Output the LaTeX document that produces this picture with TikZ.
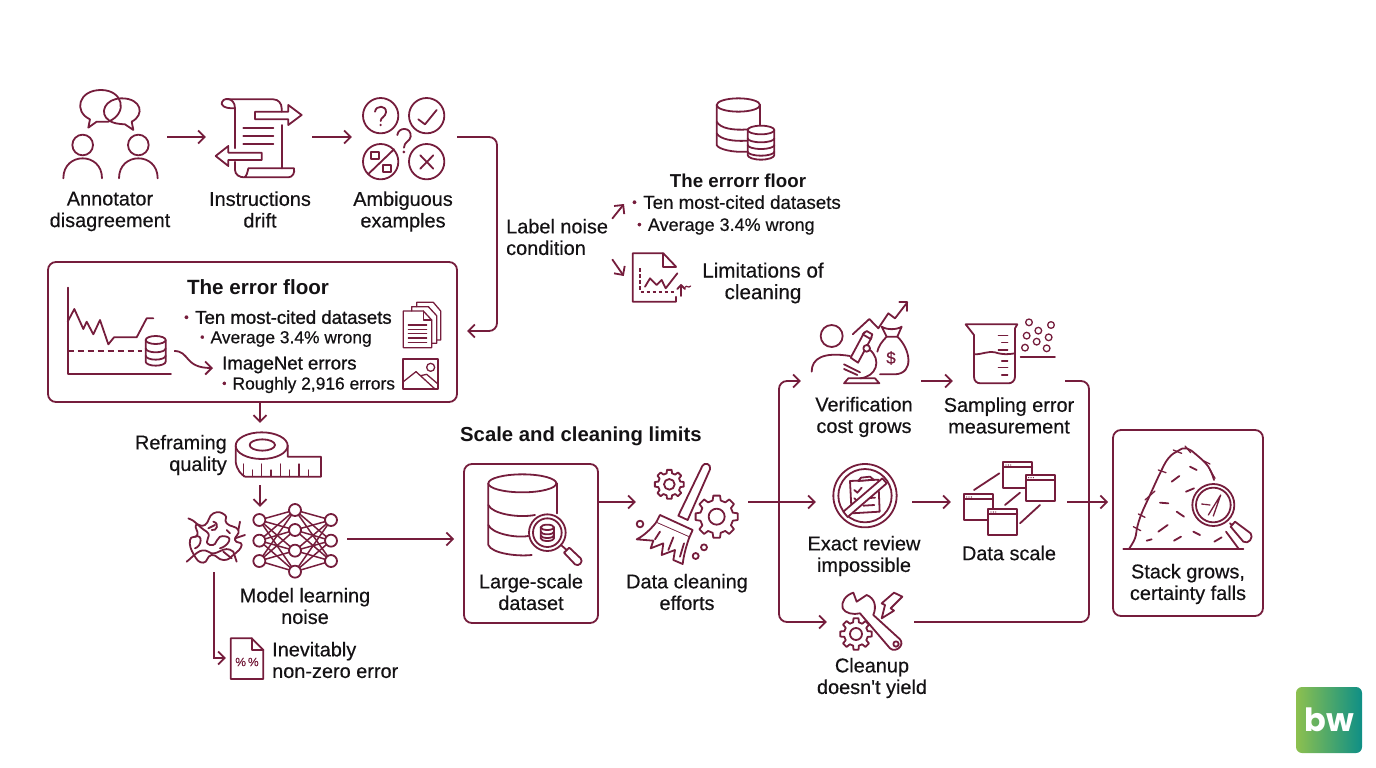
\documentclass[tikz,border=0pt]{standalone}
\usepackage{fontspec}
\setmainfont{Liberation Sans}
\newfontfamily\medfont{Liberation Sans}[FakeBold=0.45]
\newfontfamily\strongfont{Liberation Sans}[FakeBold=1.1]
\newfontfamily\logofont{Poppins}
\usetikzlibrary{arrows.meta}

\definecolor{wine}{HTML}{751D3C}
\definecolor{ink}{HTML}{141214}
\definecolor{logoleft}{HTML}{8DC04F}
\definecolor{logoright}{HTML}{0E8F86}

\newcommand{\bodyfont}{\medfont\fontsize{19.9}{21.6}\selectfont}
\newcommand{\itemfont}{\medfont\fontsize{17.4}{20}\selectfont}
\newcommand{\boldfont}{\strongfont\fontsize{18.6}{20}\selectfont}
\newcommand{\headfont}{\bfseries\fontsize{20.3}{22}\selectfont}
\newcommand{\dotitem}{\textcolor{wine}{\raisebox{.12em}{\scalebox{.7}{•}}}\hspace{.35em}}

% Roda dentada
\newcommand{\cog}[5]{%
  \draw[icon,fill=white,shift={(#1,#2)}] (-14:#3) \foreach \a in {0,45,...,315} { -- (\a-14:#3) -- (\a-9:#4) -- (\a+9:#4) -- (\a+14:#3) } -- cycle;
  \draw[icon,shift={(#1,#2)}] (0,0) circle (#5);
}

\tikzset{
  icon/.style={draw=wine, line width=1.8pt, line join=round, line cap=round},
  thinicon/.style={icon, line width=1.3pt},
  flow/.style={draw=wine, line width=1.8pt, ->, rounded corners=8pt},
  spot/.style={inner sep=0pt, minimum width=#1},
  caption/.style={font=\bodyfont, text=ink, align=center, inner sep=0pt, execute at end node=\vphantom{g}},
  listitem/.style={font=\itemfont, text=ink, anchor=west, inner sep=0pt, execute at end node=\vphantom{g}},
  listhead/.style={font=\boldfont, text=ink, anchor=west, inner sep=0pt, execute at end node=\vphantom{g}},
  heading/.style={font=\headfont, text=ink, inner sep=0pt},
  panel/.style={draw=wine, line width=1.8pt, rounded corners=8pt, inner sep=0pt},
  zoomed/.style 2 args={shift={(#1,#2)}, scale=1/3},
}

\begin{document}
\begin{tikzpicture}[x=1pt, y=-1pt, >={Straight Barb[length=6.5pt,width=13pt]}]
    \useasboundingbox (0,0) rectangle (1376,768);

    % Pontos de ancoragem dos icones
    \node[spot=104pt, minimum height=90pt] (annot) at (115,137) {};
    \node[spot=106pt, minimum height=90pt] (scroll) at (259,137) {};
    \node[spot=105pt, minimum height=90pt] (ambig) at (404.5,137) {};
    \node[spot=40pt, minimum height=62pt] (tape) at (260,454) {};
    \node[spot=60pt, minimum height=64pt] (blob) at (214,540) {};
    \node[spot=94pt, minimum height=64pt] (net) at (300,539) {};
    \node[spot=40pt, minimum height=40pt] (pct) at (246,658) {};
    \node[spot=36pt, minimum height=30pt] (minidb) at (156,351) {};
    \node[spot=62pt, minimum height=50pt] (chart) at (655,276) {};
    \node[spot=112pt, minimum height=80pt] (broom) at (692,502) {};
    \node[spot=120pt, minimum height=70pt] (verify) at (861,381) {};
    \node[spot=112pt, minimum height=70pt] (sampling) at (1009,381) {};
    \node[spot=96pt, minimum height=70pt] (review) at (864,502) {};
    \node[spot=116pt, minimum height=70pt] (datascale) at (1009,502) {};
    \node[spot=87pt, minimum height=70pt] (cleanup) at (870.5,622) {};
    \coordinate (forkL) at (779,502);
    \coordinate (forkR) at (1089,502);
    \coordinate (floorin) at (467,331);

    % Caixas
    \node[panel, minimum width=409pt, minimum height=140pt] (floorbox) at (252.5,332) {};
    \node[panel, minimum width=134pt, minimum height=159pt] (dsbox) at (531,543.5) {};
    \node[panel, minimum width=150pt, minimum height=186pt] (stackbox) at (1188,523) {};

    % Textos da primeira linha
    \node[caption] (annottext) at (110,211.5) {Annotator\\disagreement};
    \node[caption] (scrolltext) at (260,211.5) {Instructions\\drift};
    \node[caption] (ambigtext) at (403,211.5) {Ambiguous\\examples};
    \node[caption, align=left, anchor=west, inner xsep=4pt] (labelnoise) at (502,239) {Label noise\\condition};

    % Textos do bloco superior direito
    \node[heading, font=\bfseries\fontsize{18.7}{20}\selectfont] (floortwo) at (738,181) {The errorr floor};
    \node[listitem, font=\medfont\fontsize{18.7}{20}\selectfont] (tenitem) at (632,204) {\dotitem Ten most-cited datasets};
    \node[listitem, font=\medfont\fontsize{18}{20}\selectfont] (avgitem) at (637,226.5) {\dotitem Average 3.4\% wrong};
    \node[caption, font=\medfont\fontsize{20.6}{21.6}\selectfont] (limits) at (763,283) {Limitations of\\cleaning};

    % Textos da caixa do erro
    \node[heading, font=\bfseries\fontsize{20.6}{22}\selectfont] (floorhead) at (258,287) {The error floor};
    \node[listhead] (tenhead) at (184,319) {\dotitem Ten most-cited datasets};
    \node[listitem] (avghead) at (200,339) {\dotitem Average 3.4\% wrong};
    \node[listhead] (imgnet) at (222,365) {ImageNet errors};
    \node[listitem] (roughly) at (222,385) {\dotitem Roughly 2,916 errors};

    % Demais textos
    \node[caption, align=right, anchor=east] (reframe) at (227,455) {Reframing\\quality};
    \node[caption] (modeltext) at (305,608) {Model learning\\noise};
    \node[caption, align=left, anchor=west] (inevit) at (272,662) {Inevitably\\non-zero error};
    \node[heading, anchor=west] (scalehead) at (460,436.5) {Scale and cleaning limits};
    \node[caption] (dstext) at (531,594) {Large-scale\\dataset};
    \node[caption] (broomtext) at (687,594) {Data cleaning\\efforts};
    \node[caption] (verifytext) at (864,417) {Verification\\cost grows};
    \node[caption] (samplingtext) at (1009,417.5) {Sampling error\\measurement};
    \node[caption] (reviewtext) at (864,556) {Exact review\\impossible};
    \node[caption] (scaletext) at (1009,555) {Data scale};
    \node[caption] (cleanuptext) at (872,678) {Cleanup\\doesn't yield};
    \node[caption] (stacktext) at (1188,584) {Stack grows,\\certainty falls};

    % Setas
    \draw[flow] (annot.east) -- (scroll.west);
    \draw[flow] (scroll.east) -- (ambig.west);
    \draw[flow] (ambig.east) -| ([xshift=30]floorin) -- (floorin);
    \draw[flow] (labelnoise.north east) -- ([xshift=-8]tenitem.west);
    \draw[flow] (labelnoise.south east) -- (chart.west);
    \draw[flow, rounded corners=0pt] (minidb.east) .. controls (190,351) and (184,368) .. ([shift={(-9,3)}]imgnet.west);
    \draw[flow] (tape.north |- floorbox.south) -- (tape.north);
    \draw[flow] (tape.south) -- (tape.south |- net.north);
    \draw[flow, rounded corners=0pt] (blob.south) |- (pct.west);
    \draw[flow, shorten >=9pt] (net.east) -- (net.east -| dsbox.west);
    \draw[flow] (dsbox.east |- broom.west) -- (broom.west);
    \draw[flow] (broom.east) -- (review.west);
    \draw[flow] (forkL) |- (verify.west);
    \draw[flow] (forkL) |- (cleanup.west);
    \draw[flow] (verify.east) -- (sampling.west);
    \draw[flow] (review.east) -- (datascale.west);
    \draw[flow, -] (sampling.east) -| (forkR);
    \draw[flow, -] (cleanup.east) -| (forkR);
    \draw[flow, shorten >=4pt] (datascale.east) -- (datascale.east -| stackbox.west);

    % Icone: anotadores
    \begin{scope}[zoomed={40}{80}]
      \draw[icon] (150,118) -- (145,143) -- (170,125) -- (205,125) .. controls (265,100) and (250,30) .. (183,30) .. controls (115,30) and (100,95) .. (150,118);
      \draw[icon] (275,125) -- (280,150) -- (255,133) .. controls (235,132) and (220,130) .. (208,122) .. controls (175,100) and (195,55) .. (245,55) .. controls (305,55) and (315,105) .. (275,125);
      \foreach \hx in {128,295} {
        \draw[icon] (\hx,195) circle (31);
        \draw[icon] (\hx-58,295) .. controls (\hx-58,215) and (\hx+58,215) .. (\hx+58,295);
      }
    \end{scope}

    % Icone: pergaminho
    \begin{scope}[zoomed={40}{80}]
      \draw[icon] (545,72) .. controls (545,50) and (585,50) .. (585,85) -- (585,205);
      \draw[icon] (545,72) .. controls (550,85) and (570,85) .. (585,85);
      \draw[icon] (560,58) -- (700,58) .. controls (715,58) and (725,70) .. (725,85) -- (725,95);
      \draw[icon] (725,135) -- (725,265);
      \draw[icon] (585,245) -- (585,270) .. controls (585,285) and (600,292) .. (612,292) -- (745,292) .. controls (758,292) and (765,278) .. (762,265) -- (625,265) .. controls (622,278) and (620,290) .. (612,292);
      \draw[icon] (645,95) -- (745,95) -- (745,75) -- (785,105) -- (745,135) -- (745,118) -- (645,118) -- cycle;
      \draw[icon] (665,218) -- (565,218) -- (565,198) -- (527,228) -- (565,258) -- (565,240) -- (665,240) -- cycle;
      \foreach \ly in {143,168,192} \draw[icon] (610,\ly) -- (700,\ly);
    \end{scope}

    % Icone: exemplos ambiguos
    \begin{scope}[zoomed={40}{80}]
      \foreach \cx/\cy in {1022/107,1160/107,1022/245,1160/245} \draw[icon] (\cx,\cy) circle (53);
      \draw[icon] (1005,95) .. controls (1008,75) and (1040,75) .. (1038,97) .. controls (1036,112) and (1022,112) .. (1022,123);
      \fill[wine] (1022,135) circle (4);
      \draw[icon] (1135,118) -- (1155,133) -- (1190,90);
      \draw[icon] (985,282) -- (1062,208);
      \draw[icon] (993,215) rectangle (1016,238);
      \draw[icon] (1030,254) rectangle (1053,276);
      \draw[icon] (1141,226) -- (1180,266) (1180,226) -- (1141,266);
      \draw[icon] (1072,165) .. controls (1075,140) and (1115,140) .. (1112,170) .. controls (1110,185) and (1092,185) .. (1092,203);
      \fill[wine] (1092,216) circle (4.5);
    \end{scope}

    % Icone: grafico da caixa
    \begin{scope}[zoomed={40}{255}]
      \draw[icon] (83,98) -- (83,358) -- (393,358);
      \draw[icon] (83,200) -- (103,162) -- (130,222) -- (140,200) -- (160,238) -- (180,195) -- (205,268) -- (222,247) -- (290,247) -- (320,190) -- (340,190);
      \draw[icon, dash pattern=on 6pt off 4pt, line cap=butt, line width=1.5pt] (83,288) -- (305,288);
      \draw[icon] (317,255) -- (317,320) arc (180:0:30 and 12) -- (377,255);
      \draw[icon] (347,255) ellipse (30 and 12);
      \draw[icon] (317,280) arc (180:0:30 and 12) (317,302) arc (180:0:30 and 12);
    \end{scope}

    % Icone: documentos e imagem
    \begin{scope}[zoomed={40}{255}]
      \draw[thinicon] (1130,155) -- (1130,142) -- (1180,142) -- (1202,168) -- (1202,255) -- (1190,255);
      \draw[thinicon] (1115,168) -- (1115,155) -- (1165,155) -- (1190,182) -- (1190,265) -- (1175,265);
      \draw[thinicon] (1090,168) -- (1150,168) -- (1175,195) -- (1175,278) -- (1090,278) -- cycle;
      \draw[thinicon] (1150,168) -- (1150,195) -- (1175,195);
      \foreach \ly in {210,223,236,249,262} \draw[thinicon] (1105,\ly) -- (1160,\ly);
      \draw[icon] (1090,313) rectangle (1195,402);
      \draw[thinicon] (1172,337) circle (12);
      \draw[thinicon] (1090,380) -- (1128,350) -- (1185,402) (1142,362) -- (1160,358) -- (1195,388);
    \end{scope}

    % Icone: fita metrica
    \begin{scope}[zoomed={225}{420}]
      \draw[icon] (110,77) ellipse (78 and 40);
      \draw[icon] (112,75) ellipse (38 and 17);
      \draw[icon] (32,77) -- (32,125) .. controls (35,150) and (50,165) .. (60,170) -- (288,170) -- (288,110) -- (188,110) -- (188,77);
      \foreach \tx/\ty in {55/132,82/150,110/132,138/150,166/132,194/150,222/132,250/150} \draw[thinicon] (\tx,170) -- (\tx,\ty);
    \end{scope}

    % Icone: emaranhado e rede neural
    \begin{scope}[zoomed={170}{480}]
      \draw[icon] plot[smooth cycle, tension=.9] coordinates {(60,180) (82,165) (78,135) (105,135) (130,100) (165,105) (170,130) (205,150) (195,180) (215,195) (190,225) (160,240) (125,225) (100,248) (72,225)};
      \draw[icon] (55,115) .. controls (75,120) and (85,140) .. (110,155) .. controls (130,170) and (95,185) .. (120,195) .. controls (150,200) and (130,160) .. (170,170) .. controls (190,175) and (170,200) .. (150,205);
      \draw[icon] (50,245) .. controls (70,230) and (90,200) .. (115,215) .. controls (140,235) and (160,190) .. (190,215) -- (200,245);
      \draw[icon] (75,170) .. controls (100,160) and (95,200) .. (75,205) (130,125) .. controls (150,130) and (140,155) .. (125,150);
      \draw[icon] (210,125) -- (205,150) (225,165) -- (195,175) (135,135) -- (115,145) (180,160) -- (170,150) (160,215) -- (185,235);
      \foreach \ya in {120,182,243} \foreach \yb in {90,150,212,275} {
        \draw[icon, line width=1.5pt] (268,\ya) -- (375,\yb) -- (483,\ya);
      }
      \foreach \ya in {120,182,243} {
        \draw[icon, fill=white] (268,\ya) circle (18);
        \draw[icon, fill=white] (483,\ya) circle (18);
      }
      \foreach \yb in {90,150,212,275} \draw[icon, fill=white] (375,\yb) circle (18);
      \draw[icon] (182,475) -- (245,475) -- (280,510) -- (280,597) -- (182,597) -- cycle;
      \draw[icon] (245,475) -- (245,510) -- (280,510);
    \end{scope}
    \node[font=\medfont\fontsize{12}{12}\selectfont, text=wine, inner sep=0pt] (pcttext) at (247,662) {\%\,\%};

    % Icone: bancos de dados superiores
    \begin{scope}[zoomed={600}{90}]
      \draw[icon] (350,45) -- (350,165) .. controls (355,178) and (400,188) .. (440,185);
      \draw[icon] (480,45) -- (480,105);
      \draw[icon] (415,45) ellipse (65 and 20);
      \draw[icon] (350,95) .. controls (360,115) and (400,122) .. (445,118) (350,130) .. controls (360,148) and (400,155) .. (440,152);
      \draw[icon, fill=white] (443,120) -- (443,195) arc (180:0:40 and 14) -- (523,120);
      \draw[icon] (483,120) ellipse (40 and 13);
      \foreach \ly in {145,165,185} \draw[icon] (443,\ly) arc (180:0:40 and 12);
    \end{scope}

    % Icone: limitacoes
    \begin{scope}[zoomed={600}{90}]
      \draw[icon] (228,530) -- (190,490) -- (98,490) -- (98,635) -- (228,635) -- (228,620);
      \draw[icon] (190,490) -- (190,530) -- (228,530);
      \draw[icon, dash pattern=on 3.5pt off 2.5pt, line cap=butt] (120,535) -- (120,605) -- (225,605);
      \draw[icon] (135,590) -- (150,565) -- (170,585) -- (185,570) -- (197,595) -- (232,550);
      \draw[icon] (243,618) -- (243,585) (232,597) -- (243,585) -- (255,597);
      \draw[icon, line width=1.2pt] (255,592) .. controls (260,583) and (265,597) .. (272,588);
    \end{scope}

    % Icone: banco com lupa
    \begin{scope}[zoomed={460}{450}]
      \draw[icon] (85,100) -- (85,285) .. controls (95,310) and (170,320) .. (215,315);
      \draw[icon] (290,100) -- (290,190);
      \draw[icon] (187,100) ellipse (102 and 27);
      \draw[icon] (85,165) .. controls (95,190) and (170,205) .. (225,195);
      \draw[icon] (85,225) .. controls (95,250) and (165,265) .. (205,258);
      \draw[icon, fill=white] (262,248) circle (55);
      \draw[icon] (262,248) circle (43);
      \draw[icon] (242,232) -- (242,265) arc (180:0:20 and 8) -- (282,232);
      \draw[icon] (262,232) ellipse (20 and 8);
      \draw[icon] (242,245) arc (180:0:20 and 8) (242,256) arc (180:0:20 and 8);
      \draw[icon] (303,285) -- (320,300);
      \draw[icon] (312,308) -- (345,343) .. controls (355,352) and (372,335) .. (362,325) -- (328,293) -- cycle;
    \end{scope}

    % Icone: vassoura e engrenagens
    \begin{scope}[zoomed={460}{450}]
      \cog{628}{103}{34}{44}{16}
      \cog{770}{200}{50}{64}{24}
      \draw[icon, fill=white] (655,197) -- (727,48) .. controls (733,35) and (755,42) .. (750,58) -- (683,210) -- cycle;
      \draw[icon, fill=white] (600,195) -- (698,240) -- (688,262) -- (588,218) -- cycle;
      \draw[icon, fill=white] (588,218) .. controls (570,240) and (550,258) .. (530,268) -- (580,272) -- (572,295) -- (610,280) -- (605,315) -- (645,300) -- (640,330) -- (668,342) .. controls (672,310) and (680,285) .. (688,262);
      \draw[icon] (600,245) -- (585,268) (640,262) -- (625,300) (672,280) -- (660,320);
      \foreach \cx/\cy/\cr in {540/222/10,732/292/9,707/318/9} \draw[icon] (\cx,\cy) circle (\cr);
    \end{scope}

    % Icone: verificacao
    \begin{scope}[zoomed={770}{295}]
      \draw[icon] (185,123) circle (33);
      \draw[icon] (125,230) .. controls (125,190) and (160,170) .. (240,183);
      \draw[icon] (248,118) -- (298,72) -- (325,100) -- (355,55) -- (375,70) -- (412,22);
      \draw[icon] (388,22) -- (412,22) -- (412,48);
      \draw[icon] (335,95) .. controls (350,105) and (380,105) .. (395,95) -- (382,125) -- (350,125) -- cycle;
      \draw[icon] (382,125) .. controls (420,160) and (435,235) .. (375,238) -- (330,238);
      \draw[icon] (350,125) .. controls (335,140) and (325,155) .. (322,170);
      \draw[icon, fill=white] (242,188) -- (264,203) -- (305,127) -- (283,112) -- cycle;
      \draw[icon, fill=white] (278,118) -- (290,108) -- (307,118) -- (302,132) -- cycle;
      \draw[icon, fill=white] (290,160) circle (10);
      \draw[icon] (300,165) .. controls (335,195) and (320,245) .. (270,250);
      \draw[icon] (222,208) -- (270,232) (222,222) -- (262,240);
      \draw[icon] (235,250) -- (315,250) -- (328,265) -- (222,265) -- cycle;
    \end{scope}
    \node[font=\medfont\fontsize{17}{17}\selectfont, text=wine, inner sep=0pt] (dollar) at (891,358) {\$};

    % Icone: amostragem
    \begin{scope}[zoomed={770}{295}]
      \draw[icon] (587,88) -- (742,88) -- (735,100) -- (735,245) .. controls (735,258) and (725,265) .. (715,265) -- (632,265) .. controls (620,265) and (612,258) .. (612,245) -- (612,120) -- cycle;
      \draw[icon] (612,178) .. controls (640,178) and (650,168) .. (675,172) .. controls (700,180) and (715,178) .. (735,175);
      \foreach \tx/\ty in {685/122,695/143,685/165,695/198,685/218,695/240} \draw[thinicon] (\tx,\ty) -- (713,\ty);
      \foreach \cx/\cy in {777/82,843/90,805/107,770/122,836/127,800/140,765/158,830/160} \draw[thinicon] (\cx,\cy) circle (10);
      \draw[icon] (752,187) -- (855,187);
    \end{scope}

    % Icone: revisao impossivel
    \begin{scope}[zoomed={825}{455}]
      \draw[icon] (120,122) circle (95);
      \draw[icon] (120,122) circle (80);
      \draw[icon] (75,78) -- (160,74) -- (164,170) -- (80,175) -- cycle;
      \draw[icon, fill=white] (100,78) -- (108,68) -- (135,65) -- (146,74) -- cycle;
      \draw[icon] (88,105) -- (97,113) -- (110,98);
      \draw[icon] (115,130) -- (150,128) (115,152) -- (148,150) (88,130) -- (97,138);
      \draw[icon, fill=white] (55,170) -- (172,70) -- (185,85) -- (68,186) -- cycle;
    \end{scope}

    % Icone: escala de dados
    \begin{scope}[zoomed={770}{450}]
      \draw[icon] (612,120) -- (688,70) (705,165) -- (750,128) (750,220) -- (810,165);
      \foreach \wx/\wy in {700/37,768/75,582/133,655/178} {
        \draw[icon, fill=white] (\wx,\wy) rectangle ++(87,78);
        \draw[icon] (\wx,\wy+15) -- ++(87,0);
        \foreach \dx in {8,15,22} \fill[wine] (\wx+\dx,\wy+8) circle (2);
      }
    \end{scope}

    % Icone: chave e engrenagem
    \begin{scope}[zoomed={770}{450}]
      \cog{258}{552}{36}{48}{18}
      \draw[icon, fill=white] (250,428) .. controls (228,435) and (212,455) .. (218,475) .. controls (225,490) and (250,495) .. (270,490) -- (360,595) .. controls (378,610) and (405,585) .. (390,568) -- (310,495) .. controls (320,470) and (315,445) .. (290,435) -- (260,455) -- cycle;
      \draw[icon] (378,582) circle (8);
      \draw[icon, fill=white] (372,428) -- (397,440) -- (362,475) -- (372,482) -- (335,505) -- (345,465) -- (335,460) -- cycle;
    \end{scope}

    % Icone: palheiro
    \begin{scope}[zoomed={1100}{420}]
      \draw[icon] (70,387) -- (430,387);
      \draw[icon] plot[smooth, tension=.7] coordinates {(88,385) (105,355) (112,320) (125,280) (150,225) (180,160) (205,115) (235,92) (260,85) (290,105) (325,140) (342,180)};
      \draw[icon] (378,335) -- (415,385);
      \draw[thinicon] (100,320) -- (122,332) (115,282) -- (135,292) (135,240) -- (165,213) (175,150) -- (198,158) (220,90) -- (245,100) (255,78) -- (272,98) (310,122) -- (330,132) (330,150) -- (345,175);
      \foreach \ax/\ay/\bx/\by in {215/185/238/168,270/140/290/150,258/215/282/205,180/248/205/250,230/275/252/290,175/335/203/315,140/362/155/358,222/362/243/350,280/335/300/345,343/365/365/352}
        \draw[icon] (\ax,\ay) -- (\bx,\by);
      \draw[icon, fill=white] (340,255) circle (63);
      \draw[icon] (340,255) circle (52);
      \draw[thinicon] (325,285) -- (362,225) -- (340,288);
      \draw[thinicon, dash pattern=on 2.5pt off 1pt] (305,252) -- (330,255);
      \draw[icon] (390,310) -- (403,322);
      \draw[icon, fill=white] (392,320) -- (405,305) -- (452,340) .. controls (462,352) and (445,375) .. (430,365) -- cycle;
    \end{scope}

    % Logotipo
    \node[rounded corners=6pt, left color=logoleft, right color=logoright, minimum size=66pt, inner sep=0pt, text=white, font=\logofont\bfseries\fontsize{32}{32}\selectfont] (bwlogo) at (1329,720) {bw};

\end{tikzpicture}
\end{document}
